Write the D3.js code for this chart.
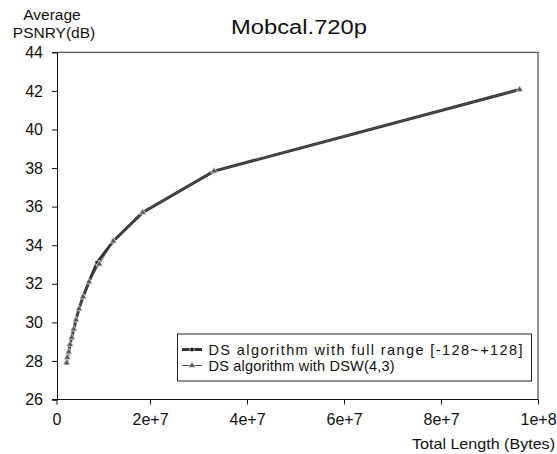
<!DOCTYPE html>
<html>
<head>
<meta charset="utf-8">
<script src="https://cdn.jsdelivr.net/npm/d3@7"></script>
<style>
  body { margin: 0; background: #fff; }
  svg { font-family: "Liberation Sans", Arial, sans-serif; }
</style>
</head>
<body>
<svg width="557" height="454"></svg>
<script>
// data (x = total length in bytes, y = PSNR in dB)
var lengthFull = [2.82e6, 2.95e6, 3.24e6, 3.5e6, 3.86e6, 4.27e6, 4.74e6, 5.36e6, 6.19e6, 7.42e6, 9.1e6, 12.43e6, 18.49e6, 33.2e6, 96.2e6];
var psnrFull   = [27.90, 28.18, 28.47, 28.85, 29.22, 29.65, 30.13, 30.70, 31.32, 32.10, 33.10, 34.21, 35.70, 37.84, 42.07];
var lengthDsw  = [2.82e6, 2.95e6, 3.24e6, 3.5e6, 3.86e6, 4.27e6, 4.74e6, 5.36e6, 6.19e6, 7.42e6, 9.55e6, 12.43e6, 18.49e6, 33.2e6, 96.2e6];
var psnrDsw    = [27.90, 28.18, 28.47, 28.85, 29.22, 29.65, 30.13, 30.70, 31.32, 32.10, 33.02, 34.21, 35.70, 37.84, 42.07];
var xTicks = [0, 2e7, 4e7, 6e7, 8e7, 1e8];
var xTickLabels = ["0", "2e+7", "4e+7", "6e+7", "8e+7", "1e+8"];
var yTicks = [26, 28, 30, 32, 34, 36, 38, 40, 42, 44];
var seriesNames = ["DS algorithm with full range [-128~+128]", "DS algorithm with DSW(4,3)"];

var svg = d3.select("svg");

var plotLeft = 57, plotRight = 538, plotTop = 52.3, plotBottom = 399.5;

// x axis starts a bit left of the y line in the original
var xScale = d3.scaleLinear().domain([0, 1e8]).range([53, plotRight]);
var yScale = d3.scaleLinear().domain([26, 44]).range([plotBottom, plotTop]);

// plot frame (top and right)
svg.append("path")
  .attr("d", "M" + plotLeft + "," + plotTop + "H" + plotRight + "V" + plotBottom)
  .attr("fill", "none")
  .attr("stroke", "#555")
  .attr("stroke-width", 1.3);

// x axis
var xAxis = d3.axisBottom(xScale)
  .tickValues(xTicks)
  .tickFormat(function (d, i) { return xTickLabels[i]; })
  .tickSizeOuter(0)
  .tickSize(5)
  .tickPadding(9);
var gx = svg.append("g")
  .attr("transform", "translate(0," + plotBottom + ")")
  .call(xAxis);
gx.select(".domain").attr("d", "M" + (plotLeft - 5) + ",0H" + plotRight).attr("stroke", "#111");
// the zero tick sits on the y axis line
gx.selectAll(".tick").filter(function (d) { return d === 0; })
  .attr("transform", "translate(" + plotLeft + ",0)");
gx.selectAll("text").attr("font-size", 16).attr("fill", "#111")
  .attr("font-family", "Liberation Sans, Arial, sans-serif");
gx.selectAll("line").attr("stroke", "#111");

// y axis
var yAxis = d3.axisLeft(yScale)
  .tickValues(yTicks)
  .tickSizeOuter(0)
  .tickSize(5)
  .tickPadding(9);
var gy = svg.append("g")
  .attr("transform", "translate(" + plotLeft + ",0)")
  .call(yAxis);
gy.select(".domain").attr("stroke", "#111");
gy.selectAll("text").attr("font-size", 16).attr("fill", "#111")
  .attr("font-family", "Liberation Sans, Arial, sans-serif");
gy.selectAll("line").attr("stroke", "#111");

// titles
svg.append("text")
  .attr("x", 299).attr("y", 34)
  .attr("text-anchor", "middle")
  .attr("font-size", 19.5)
  .attr("fill", "#111")
  .attr("textLength", 136)
  .attr("lengthAdjust", "spacingAndGlyphs")
  .text("Mobcal.720p");

svg.append("text")
  .attr("x", 52).attr("y", 20)
  .attr("text-anchor", "middle")
  .attr("font-size", 15.5)
  .attr("fill", "#111")
  .text("Average");
svg.append("text")
  .attr("x", 54).attr("y", 38)
  .attr("text-anchor", "middle")
  .attr("font-size", 15.5)
  .attr("fill", "#111")
  .text("PSNRY(dB)");

svg.append("text")
  .attr("x", 555).attr("y", 449)
  .attr("text-anchor", "end")
  .attr("font-size", 15)
  .attr("fill", "#111")
  .attr("textLength", 143)
  .attr("lengthAdjust", "spacingAndGlyphs")
  .text("Total Length (Bytes)");

// series
var full = lengthFull.map(function (x, i) { return [x, psnrFull[i]]; });
var dsw = lengthDsw.map(function (x, i) { return [x, psnrDsw[i]]; });

var line = d3.line()
  .x(function (d) { return xScale(d[0]); })
  .y(function (d) { return yScale(d[1]); });

svg.append("path")
  .datum(full)
  .attr("d", line)
  .attr("fill", "none")
  .attr("stroke", "#333")
  .attr("stroke-width", 3);

svg.selectAll("circle.full").data(full)
  .enter()
  .append("circle")
  .attr("class", "full")
  .attr("cx", function (d) { return xScale(d[0]); })
  .attr("cy", function (d) { return yScale(d[1]); })
  .attr("r", 2.3)
  .attr("fill", "#222")
  .attr("stroke", "#fff")
  .attr("stroke-width", 0.6);

svg.append("path")
  .datum(dsw)
  .attr("d", line)
  .attr("fill", "none")
  .attr("stroke", "#555")
  .attr("stroke-width", 1);

var tri = d3.symbol().type(d3.symbolTriangle).size(18);
svg.selectAll("path.dsw").data(dsw)
  .enter()
  .append("path")
  .attr("class", "dsw")
  .attr("d", tri)
  .attr("transform", function (d) { return "translate(" + xScale(d[0]) + "," + yScale(d[1]) + ")"; })
  .attr("fill", "#555")
  .attr("stroke", "#ddd")
  .attr("stroke-width", 0.7);

// legend
var lg = svg.append("g");
lg.append("rect")
  .attr("x", 177.5).attr("y", 334)
  .attr("width", 354).attr("height", 47)
  .attr("fill", "#fff")
  .attr("stroke", "#222")
  .attr("stroke-width", 1);

var rows = [349.5, 365.5];
lg.append("line").attr("x1", 182).attr("x2", 202).attr("y1", rows[0]).attr("y2", rows[0])
  .attr("stroke", "#333").attr("stroke-width", 3);
lg.append("circle").attr("cx", 192).attr("cy", rows[0]).attr("r", 2.3)
  .attr("fill", "#222").attr("stroke", "#fff").attr("stroke-width", 0.6);
lg.append("line").attr("x1", 182).attr("x2", 202).attr("y1", rows[1]).attr("y2", rows[1])
  .attr("stroke", "#555").attr("stroke-width", 1);
lg.append("path").attr("d", tri)
  .attr("transform", "translate(192," + rows[1] + ")")
  .attr("fill", "#555").attr("stroke", "#ddd").attr("stroke-width", 0.7);

var legendWidths = [314, 186];
lg.selectAll("text.leg").data(seriesNames)
  .enter()
  .append("text")
  .attr("class", "leg")
  .attr("x", 208.5)
  .attr("y", function (d, i) { return rows[i] + 5; })
  .attr("font-size", 14.5)
  .attr("fill", "#111")
  .attr("textLength", function (d, i) { return legendWidths[i]; })
  .attr("lengthAdjust", "spacing")
  .text(function (d) { return d; });
</script>
</body>
</html>
